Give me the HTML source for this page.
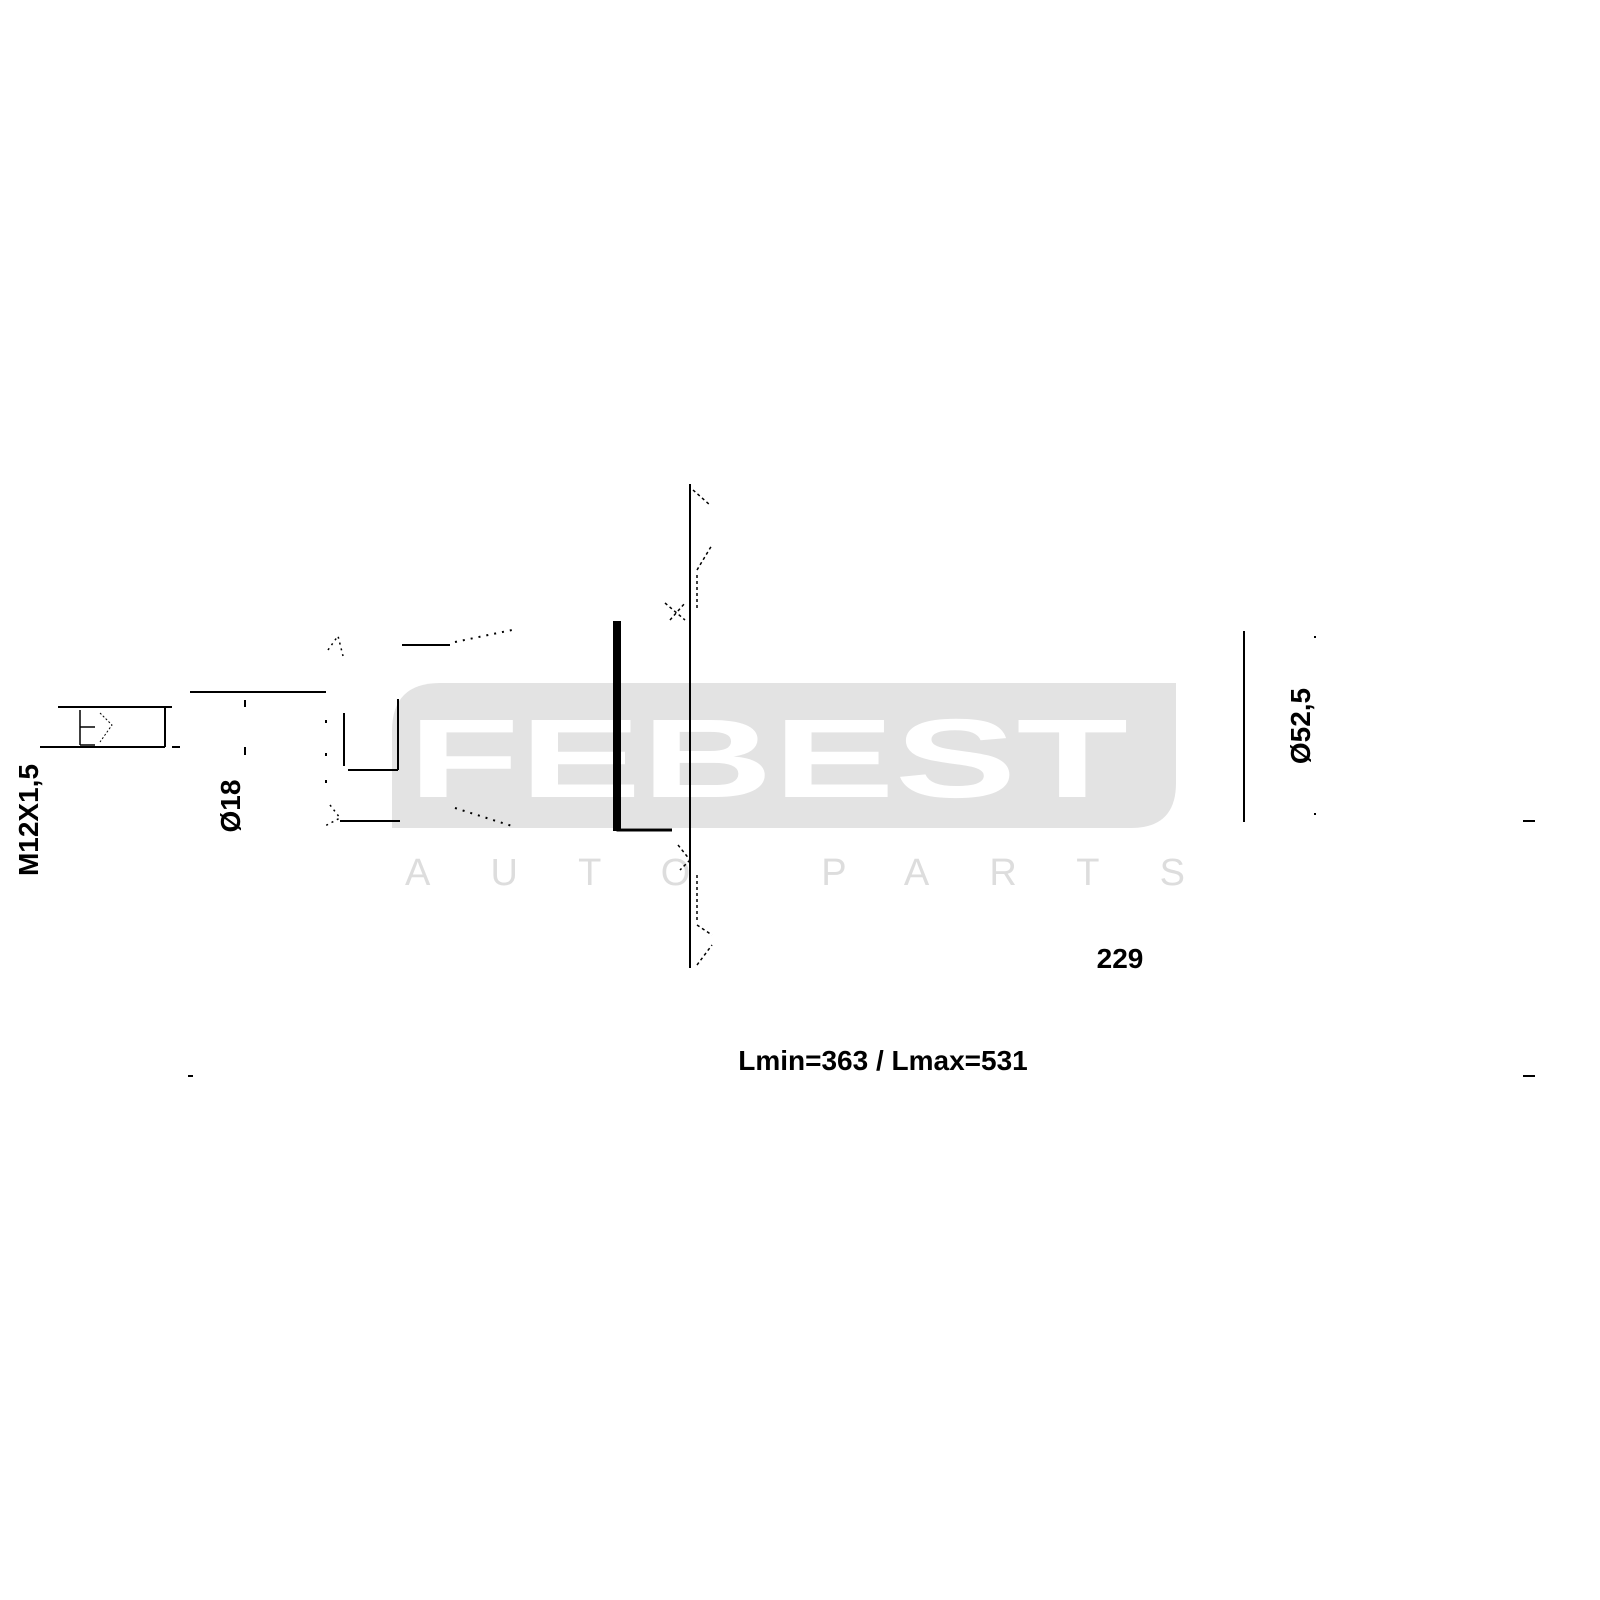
<!DOCTYPE html>
<html><head><meta charset="utf-8"><style>
html,body{margin:0;padding:0;background:#fff;}
svg{display:block;}
text{font-family:"Liberation Sans",sans-serif;}
</style></head><body>
<svg width="1600" height="1600" viewBox="0 0 1600 1600" xmlns="http://www.w3.org/2000/svg">
<rect width="1600" height="1600" fill="#fff"/>
<!-- watermark -->
<path d="M440 683 H1176 V783 Q1176 828 1131 828 H392 V731 Q392 683 440 683 Z" fill="#e3e3e3"/>
<text x="768" y="797" text-anchor="middle" font-size="112" font-weight="bold" fill="#fff" textLength="720" lengthAdjust="spacingAndGlyphs">FEBEST</text>
<text x="405" y="885" font-size="38" fill="#dddddd" textLength="780" lengthAdjust="spacing">AUTO PARTS</text>
<text x="405" y="885" font-size="38" fill="#dddddd" style="display:none">A</text>
<g stroke="#000" fill="none" stroke-width="2">
<!-- main vertical -->
<line x1="690" y1="484" x2="690" y2="968"/>
<!-- thick bar -->
<path d="M618 621 V830 H672" stroke-width="3"/>
<rect x="613" y="621" width="8" height="210" fill="#000" stroke="none"/>
<!-- left thread part -->
<line x1="40" y1="747" x2="165" y2="747"/>
<line x1="58" y1="707" x2="165" y2="707"/>
<line x1="165" y1="707" x2="165" y2="747"/>
<line x1="165" y1="707" x2="172" y2="707"/>
<line x1="172" y1="747" x2="180" y2="747"/>
<path d="M80 710 V745 M80 727 H95 M80 745 H95" stroke-width="1.5"/>
<path d="M100 713 L112 725 L100 742" stroke-width="1" stroke-dasharray="2 2"/>
<line x1="190" y1="692" x2="326" y2="692"/>
<line x1="245" y1="700" x2="245" y2="707" />
<line x1="245" y1="747" x2="245" y2="755" />
<!-- rod head -->
<line x1="344" y1="713" x2="344" y2="766"/>
<line x1="398" y1="699" x2="398" y2="770"/>
<line x1="348" y1="770" x2="398" y2="770"/>
<line x1="402" y1="645" x2="450" y2="645"/>
<line x1="340" y1="821" x2="400" y2="821"/>
<path d="M455 642 L512 630" stroke-dasharray="2 6"/>
<path d="M455 808 L512 826" stroke-dasharray="2 6"/>
<path d="M328 650 L338 636 L343 656" stroke-dasharray="2 4" stroke-width="1.5"/>
<path d="M330 805 L340 818 L325 826" stroke-dasharray="2 4" stroke-width="1.5"/>
<path d="M326 720 V760 M326 780 V785" stroke-dasharray="3 30"/>
<!-- hatch marks along vertical -->
<g stroke-width="1.5" stroke-dasharray="3 3">
<path d="M693 490 L710 505"/><path d="M697 570 L712 545"/><path d="M697 575 V610"/>
<path d="M665 603 L685 620 M670 620 L685 603"/>
<path d="M678 845 L690 860 M690 860 L680 870"/><path d="M697 875 V920"/>
<path d="M697 925 L712 935"/><path d="M697 965 L712 945"/>
</g>
<!-- right dimension -->
<line x1="1244" y1="631" x2="1244" y2="822"/>
<line x1="1523" y1="821" x2="1535" y2="821"/>
<line x1="1523" y1="1076" x2="1535" y2="1076"/>
<line x1="188" y1="1076" x2="193" y2="1076"/>
<line x1="1314" y1="637" x2="1316" y2="637"/>
<line x1="1314" y1="814" x2="1316" y2="814"/>
</g>
<g font-weight="bold" fill="#000" font-size="28">
<text transform="translate(38,820) rotate(-90)" text-anchor="middle">M12X1,5</text>
<text transform="translate(240,806) rotate(-90)" text-anchor="middle">Ø18</text>
<text transform="translate(1310,726) rotate(-90)" text-anchor="middle">Ø52,5</text>
<text x="1120" y="968" text-anchor="middle">229</text>
<text x="883" y="1070" text-anchor="middle">Lmin=363 / Lmax=531</text>
</g>
</svg>
</body></html>
